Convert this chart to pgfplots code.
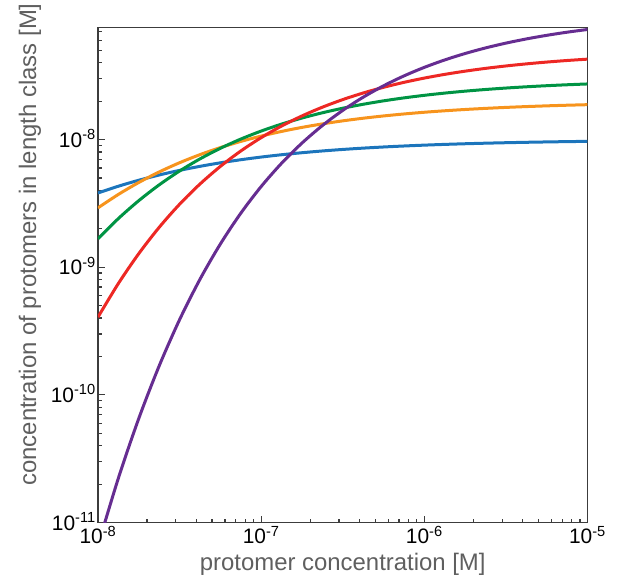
\documentclass[border=0pt]{standalone}
\usepackage{fontspec}
\setmainfont{Liberation Sans}
\usepackage{pgfplots}
\usepackage{pgfplotstable}
\pgfplotsset{compat=1.18}
\definecolor{cblue}{RGB}{28,117,188}
\definecolor{corange}{RGB}{247,148,29}
\definecolor{cgreen}{RGB}{0,148,68}
\definecolor{cred}{RGB}{237,40,36}
\definecolor{cpurple}{RGB}{102,45,145}
\definecolor{axgray}{RGB}{60,60,60}
\definecolor{labgray}{RGB}{95,95,95}

% x = protomer concentration [M]; n1..n10 = concentration of protomers in length class [M]
\pgfplotstableread{
x n1 n2 n3 n5 n10
1e-8 3.8197e-9 2.9180e-9 1.6718e-9 4.0653e-10 6.6107e-12
1.3335e-8 4.3129e-9 3.7203e-9 2.4068e-9 7.4617e-10 2.2271e-11
1.7783e-8 4.8030e-9 4.6137e-9 3.3239e-9 1.2780e-9 6.5329e-11
2.3714e-8 5.2809e-9 5.5776e-9 4.4183e-9 2.0536e-9 1.6869e-10
3.1623e-8 5.7397e-9 6.5888e-9 5.6726e-9 3.1146e-9 3.8803e-10
4.2170e-8 6.1738e-9 7.6230e-9 7.0594e-9 4.4845e-9 8.0444e-10
5.6234e-8 6.5795e-9 8.6579e-9 8.5446e-9 6.1648e-9 1.5202e-9
7.4989e-8 6.9547e-9 9.6734e-9 1.00913e-8 8.1348e-9 2.6470e-9
1e-7 7.2984e-9 1.06534e-8 1.16630e-8 1.03543e-8 4.2885e-9
1.3335e-7 7.6110e-9 1.15854e-8 1.32264e-8 1.27694e-8 6.5223e-9
1.7783e-7 7.8932e-9 1.24605e-8 1.47529e-8 1.53191e-8 9.3870e-9
2.3714e-7 8.1465e-9 1.32732e-8 1.62196e-8 1.79405e-8 1.28744e-8
3.1623e-7 8.3728e-9 1.40208e-8 1.76091e-8 2.05745e-8 1.69323e-8
4.2170e-7 8.5741e-9 1.47030e-8 1.89097e-8 2.31691e-8 2.14724e-8
5.6234e-7 8.7524e-9 1.53210e-8 2.01144e-8 2.56811e-8 2.63807e-8
7.4989e-7 8.9100e-9 1.58775e-8 2.12202e-8 2.80771e-8 3.15328e-8
1e-6 9.0488e-9 1.63760e-8 2.22273e-8 3.03329e-8 3.68033e-8
1.3335e-6 9.1707e-9 1.68204e-8 2.31383e-8 3.24330e-8 4.20760e-8
1.7783e-6 9.2777e-9 1.72151e-8 2.39575e-8 3.43694e-8 4.72502e-8
2.3714e-6 9.3714e-9 1.75645e-8 2.46905e-8 3.61396e-8 5.22427e-8
3.1623e-6 9.4533e-9 1.78728e-8 2.53434e-8 3.77464e-8 5.69916e-8
4.2170e-6 9.5247e-9 1.81441e-8 2.59227e-8 3.91955e-8 6.14514e-8
5.6234e-6 9.5871e-9 1.83825e-8 2.64352e-8 4.04955e-8 6.55953e-8
7.4989e-6 9.6414e-9 1.85914e-8 2.68872e-8 4.16560e-8 6.94088e-8
1e-5 9.6887e-9 1.87743e-8 2.72849e-8 4.26879e-8 7.28902e-8
}\datatable

\begin{document}
\begin{tikzpicture}
\begin{axis}[
  scale only axis,
  width=489.5bp, height=495bp,
  xmode=log, ymode=log,
  xmin=1e-8, xmax=1e-5,
  ymin=1e-11, ymax=7.55e-8,
  axis line style={draw=axgray, line width=1.3bp},
  tick align=inside,
  xtick pos=left, ytick pos=left,
  xtick={1e-8,1e-7,1e-6,1e-5},
  xticklabels={10\textsuperscript{-8},10\textsuperscript{-7},10\textsuperscript{-6},10\textsuperscript{-5}},
  minor xtick={2e-8,3e-8,4e-8,5e-8,6e-8,7e-8,8e-8,9e-8,
               2e-7,3e-7,4e-7,5e-7,6e-7,7e-7,8e-7,9e-7,
               2e-6,3e-6,4e-6,5e-6,6e-6,7e-6,8e-6,9e-6},
  ytick={1e-11,1e-10,1e-9,1e-8},
  yticklabels={10\textsuperscript{-11},10\textsuperscript{-10},10\textsuperscript{-9},10\textsuperscript{-8}},
  minor ytick={2e-11,3e-11,4e-11,5e-11,6e-11,7e-11,8e-11,9e-11,
               2e-10,3e-10,4e-10,5e-10,6e-10,7e-10,8e-10,9e-10,
               2e-9,3e-9,4e-9,5e-9,6e-9,7e-9,8e-9,9e-9,
               2e-8,3e-8,4e-8,5e-8,6e-8,7e-8},
  major tick length=7bp, minor tick length=4bp,
  tick style={draw=axgray, line width=1.2bp},
  ticklabel style={font=\fontsize{21}{24}\selectfont, text=black},
  yticklabel style={anchor=base east, yshift=-7.5bp, inner xsep=2bp},
  xlabel={protomer concentration [M]},
  ylabel={concentration of protomers in length class [M]},
  label style={font=\fontsize{24}{28}\selectfont, text=labgray},
  xlabel style={at={(axis description cs:0.5,0)}, anchor=base, yshift=-48bp},
  ylabel style={at={(axis description cs:-0.139,0.5616)}, anchor=center},
  every axis plot/.append style={line width=3bp, smooth},
]
\addplot[cblue] table[x=x, y=n1] {\datatable};
\addplot[corange] table[x=x, y=n2] {\datatable};
\addplot[cgreen] table[x=x, y=n3] {\datatable};
\addplot[cred] table[x=x, y=n5] {\datatable};
\addplot[cpurple] table[x=x, y=n10] {\datatable};
\end{axis}
\path (current axis.south west) ++(-98bp,-64bp) rectangle ++(618bp,586bp);
\end{tikzpicture}
\end{document}
